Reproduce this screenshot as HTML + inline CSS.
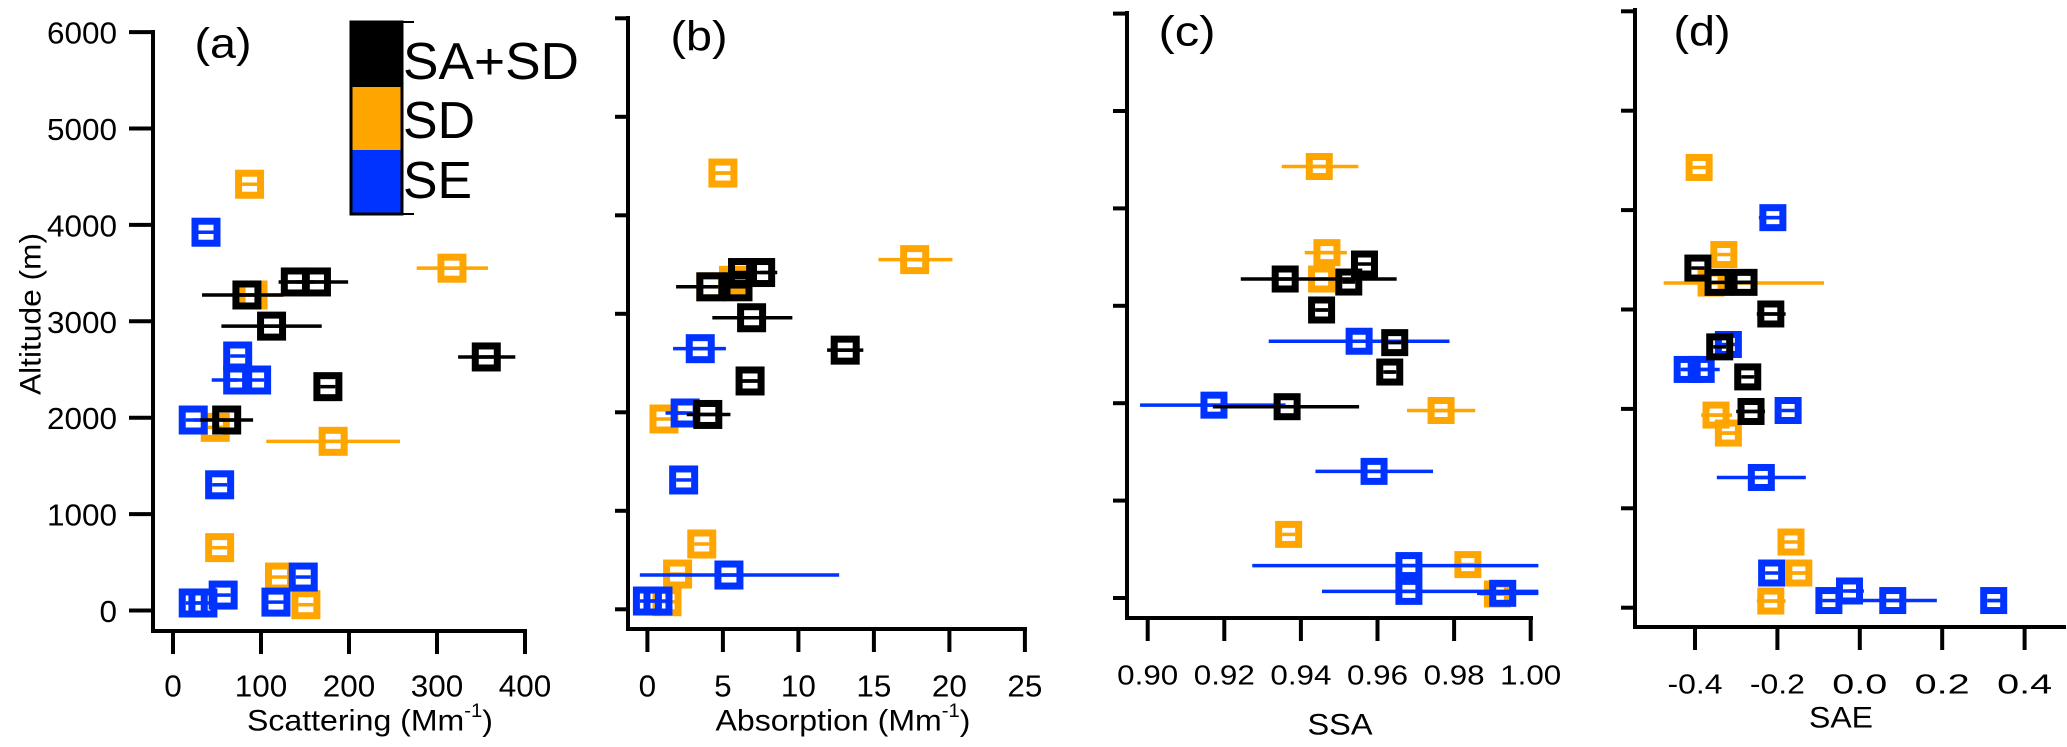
<!DOCTYPE html>
<html><head><meta charset="utf-8"><style>
html,body{margin:0;padding:0;background:#fff;}
svg{display:block;font-family:"Liberation Sans",sans-serif;}
</style></head><body>
<svg id="chart" width="2067" height="747" viewBox="0 0 2067 747" xmlns="http://www.w3.org/2000/svg">
<g id="axes"></g>
<g id="marks"></g>
<g id="legend">
  <rect x="351" y="22" width="51" height="66" fill="#000"/>
  <rect x="351" y="87" width="51" height="64" fill="#FFA500"/>
  <rect x="351" y="150" width="51" height="64" fill="#0033FF"/>
  <rect x="351" y="22" width="51" height="192" fill="none" stroke="#000" stroke-width="3"/>
  <line x1="402" y1="22" x2="414" y2="22" stroke="#000" stroke-width="2"/>
  <line x1="402" y1="214" x2="414" y2="214" stroke="#000" stroke-width="2"/>
  <text x="403" y="79" font-size="52" textLength="176" lengthAdjust="spacingAndGlyphs">SA+SD</text>
  <text x="403" y="138" font-size="52" textLength="72" lengthAdjust="spacingAndGlyphs">SD</text>
  <text x="403" y="198" font-size="52" textLength="69" lengthAdjust="spacingAndGlyphs">SE</text>
</g>
</svg>
<script>
// ---- Panel (a) Scattering ----
const aBlackX=[84,139,163,112,176,356,61];
const aBlackAlt=[3273,3408,3408,2950,2322,2630,1976];
const aBlackLo=[33,120,140,55,176,324,31];
const aBlackHi=[125,160,199,169,176,389,91];
const aOrangeX=[87,317,91,48,182,53,121,151];
const aOrangeAlt=[4422,3551,3273,1900,1755,652,347,60];
const aOrangeLo=[87,277,91,48,106,53,121,151];
const aOrangeHi=[87,358,127,48,258,53,121,151];
const aBlueX=[37.5,73.5,73.5,95,23,53,148,57,117,23,34];
const aBlueAlt=[3924,2640,2391,2391,1976,1304,347,160,87,78,78];
const aBlueLo=[37.5,73.5,44,95,23,53,148,57,117,23,34];
const aBlueHi=[37.5,73.5,73.5,95,31,53,148,57,117,23,34];
// ---- Panel (b) Absorption ----
const bBlackX=[4.2,6.0,6.3,7.5,6.9,13.1,6.8,4.0];
const bBlackAlt=[3274,3274,3419,3419,2960,2631,2318,1978];
const bBlackLo=[1.9,6.0,6.3,7.5,4.3,11.9,6.2,2.6];
const bBlackHi=[4.2,6.0,6.3,8.6,9.6,14.3,7.4,5.5];
const bOrangeX=[5.0,17.7,4.2,5.7,1.1,3.6,2.0,1.3];
const bOrangeAlt=[4429,3550,3274,3340,1932,663,358,77];
const bOrangeLo=[4.3,15.3,4.2,5.7,1.1,3.6,2.0,1.3];
const bOrangeHi=[5.7,20.2,4.2,5.7,1.1,3.6,2.0,1.3];
const bBlueX=[3.5,2.5,2.4,5.4,0.0,0.7];
const bBlueAlt=[2646,1993,1313,348,84,84];
const bBlueLo=[1.7,1.2,2.4,-0.5,0.0,0.7];
const bBlueHi=[5.2,2.5,2.4,12.7,0.0,0.7];
// ---- Panel (c) SSA ----
const cBlackX=[0.9359,0.9525,0.9566,0.9454,0.9645,0.9632,0.9364];
const cBlackAlt=[3275,3244,3429,2957,2622,2320,1964];
const cBlackLo=[0.9243,0.9525,0.9566,0.9440,0.9645,0.9620,0.9170];
const cBlackHi=[0.9650,0.9525,0.9566,0.9470,0.9645,0.9645,0.9552];
const cOrangeX=[0.9448,0.9468,0.9454,0.9766,0.9368,0.9836,0.9913];
const cOrangeAlt=[4430,3546,3275,1925,653,343,41];
const cOrangeLo=[0.9350,0.9410,0.9454,0.9677,0.9368,0.9800,0.9870];
const cOrangeHi=[0.9550,0.9520,0.9454,0.9855,0.9368,0.9870,0.9950];
const cBlueX=[0.9173,0.9552,0.9591,0.9682,0.9682,0.9927];
const cBlueAlt=[1980,2636,1300,333,68,48];
const cBlueLo=[0.8980,0.9316,0.9438,0.9273,0.9455,0.9860];
const cBlueHi=[0.9360,0.9788,0.9745,1.0020,1.0020,1.0020];
// ---- Panel (d) SAE ----
const dBlackX=[-0.393,-0.344,-0.281,-0.216,-0.340,-0.272,-0.264];
const dBlackAlt=[3417,3273,3273,2955,2624,2322,1974];
const dBlackLo=[-0.393,-0.344,-0.320,-0.250,-0.340,-0.272,-0.300];
const dBlackHi=[-0.393,-0.344,-0.250,-0.180,-0.340,-0.272,-0.230];
const dOrangeX=[-0.390,-0.330,-0.361,-0.349,-0.319,-0.167,-0.148,-0.216];
const dOrangeAlt=[4429,3553,3266,1938,1757,661,349,67];
const dOrangeLo=[-0.390,-0.330,-0.476,-0.385,-0.345,-0.167,-0.180,-0.250];
const dOrangeHi=[-0.390,-0.330,-0.087,-0.310,-0.290,-0.167,-0.120,-0.180];
const dBlueX=[-0.211,-0.319,-0.419,-0.385,-0.174,-0.239,-0.214,-0.025,-0.075,0.080,0.325];
const dBlueAlt=[3924,2648,2397,2397,1984,1310,349,168,72,72,72];
const dBlueLo=[-0.245,-0.319,-0.430,-0.385,-0.174,-0.347,-0.214,-0.025,-0.075,-0.032,0.310];
const dBlueHi=[-0.180,-0.319,-0.385,-0.340,-0.174,-0.131,-0.214,0.010,-0.075,0.187,0.345];
// ---- ticks ----
const altTicks=[0,1000,2000,3000,4000,5000,6000];
const aXTicks=[0,100,200,300,400];
const bXTicks=[0,5,10,15,20,25];
const cXTicks=[0.90,0.92,0.94,0.96,0.98,1.00];
const cXLabels=["0.90","0.92","0.94","0.96","0.98","1.00"];
const dXTicks=[-0.4,-0.2,0.0,0.2,0.4];
const dXLabels=["-0.4","-0.2","0.0","0.2","0.4"];

const NS="http://www.w3.org/2000/svg";
const axesG=document.getElementById('axes');
const marksG=document.getElementById('marks');
const ORANGE="#FFA500", BLUE="#0033FF", BLACK="#000000";
function mk(tag,parent){const e=document.createElementNS(NS,tag);parent.appendChild(e);return e;}
function line(p,x1,y1,x2,y2,c,w){const l=mk('line',p);l.setAttribute('x1',x1);l.setAttribute('y1',y1);l.setAttribute('x2',x2);l.setAttribute('y2',y2);l.setAttribute('stroke',c);l.setAttribute('stroke-width',w);return l;}
function txt(p,x,y,s,fs,anchor,len){const t=mk('text',p);t.setAttribute('x',x);t.setAttribute('y',y);t.setAttribute('font-size',fs);t.setAttribute('text-anchor',anchor);t.setAttribute('dominant-baseline','central');if(len){t.setAttribute('textLength',len);t.setAttribute('lengthAdjust','spacingAndGlyphs');}t.textContent=s;return t;}

const panels=[
 {id:'a',x0:173,xs:0.88,xv0:0,y0:610.5,ys:0.0964,ax:153,ay:631,xEnd:525,yTop:32,yTickLen:24,tickLab:true,
  xt:aXTicks,xl:aXTicks.map(String),lfs:31,lw:null,labY:686,title:'Scattering (Mm',sup:true,titleX:370,titleY:721,titleLen:246,
  plab:'(a)',plx:223,ply:43,ms:29},
 {id:'b',x0:647.4,xs:15.1,xv0:0,y0:609.3,ys:0.0985,ax:628,ay:629,xEnd:1025,yTop:18,yTickLen:13,tickLab:false,
  xt:bXTicks,xl:bXTicks.map(String),lfs:31,lw:null,labY:686,title:'Absorption (Mm',sup:true,titleX:843,titleY:721,titleLen:255,
  plab:'(b)',plx:699,ply:36,ms:29},
 {id:'c',x0:1147.7,xs:3830,xv0:0.9,y0:598,ys:0.0974,ax:1127,ay:618,xEnd:1531,yTop:13,yTickLen:14,tickLab:false,
  xt:cXTicks,xl:cXLabels,lfs:28,lw:61,labY:675,title:'SSA',sup:false,titleX:1340,titleY:725,titleLen:65,
  plab:'(c)',plx:1187,ply:31,ms:27},
 {id:'d',x0:1695,xs:412,xv0:-0.4,y0:607.7,ys:0.0994,ax:1635,ay:627,xEnd:2064,yTop:10,yTickLen:14,tickLab:false,
  xt:dXTicks,xl:dXLabels,lfs:28,lw:55,labY:684,title:'SAE',sup:false,titleX:1841,titleY:718,titleLen:64,
  plab:'(d)',plx:1702,ply:31,ms:27}
];
const data={
 a:[[aOrangeX,aOrangeAlt,aOrangeLo,aOrangeHi,ORANGE,'sd'],[aBlueX,aBlueAlt,aBlueLo,aBlueHi,BLUE,'se'],[aBlackX,aBlackAlt,aBlackLo,aBlackHi,BLACK,'sa-sd']],
 b:[[bOrangeX,bOrangeAlt,bOrangeLo,bOrangeHi,ORANGE,'sd'],[bBlueX,bBlueAlt,bBlueLo,bBlueHi,BLUE,'se'],[bBlackX,bBlackAlt,bBlackLo,bBlackHi,BLACK,'sa-sd']],
 c:[[cOrangeX,cOrangeAlt,cOrangeLo,cOrangeHi,ORANGE,'sd'],[cBlueX,cBlueAlt,cBlueLo,cBlueHi,BLUE,'se'],[cBlackX,cBlackAlt,cBlackLo,cBlackHi,BLACK,'sa-sd']],
 d:[[dOrangeX,dOrangeAlt,dOrangeLo,dOrangeHi,ORANGE,'sd'],[dBlueX,dBlueAlt,dBlueLo,dBlueHi,BLUE,'se'],[dBlackX,dBlackAlt,dBlackLo,dBlackHi,BLACK,'sa-sd']]
};

panels.forEach(p=>{
  const X=v=>p.x0+(v-p.xv0)*p.xs;
  const Y=a=>p.y0-a*p.ys;
  const g=mk('g',axesG);
  
  
  // y axis
  const ya=line(g,p.ax,p.yTop-2,p.ax,p.ay+2,'#000',4);
  
  
  altTicks.forEach(t=>{
    const tk=line(g,p.ax-p.yTickLen,Y(t),p.ax,Y(t),'#000',4);
    
    
    if(p.tickLab){
      const tl=txt(g,117,Y(t)+1,String(t),p.lfs,'end',String(t).length*17.5);
      
      
    }
  });
  // x axis
  const xa=line(g,p.ax-2,p.ay,p.xEnd+2,p.ay,'#000',4);
  
  
  p.xt.forEach((t,i)=>{
    const tk=line(g,X(t),p.ay,X(t),p.ay+23,'#000',4);
    
    
    const len=p.lw?p.lw:p.xl[i].length*17.5;
    const tl=txt(g,X(t),p.labY,p.xl[i],p.lfs,'middle',len);
    
    
  });
  // title
  const tt=mk('text',g);
  tt.setAttribute('x',p.titleX);tt.setAttribute('y',p.titleY);
  tt.setAttribute('font-size',30);tt.setAttribute('text-anchor','middle');
  tt.setAttribute('dominant-baseline','central');
  
  
  if(p.sup){
    tt.appendChild(document.createTextNode(p.title));
    const ts=document.createElementNS(NS,'tspan');ts.setAttribute('dy','-10');ts.setAttribute('font-size','19');ts.textContent='-1';tt.appendChild(ts);
    const tc=document.createElementNS(NS,'tspan');tc.setAttribute('dy','10');tc.textContent=')';tt.appendChild(tc);
    tt.setAttribute('textLength',p.titleLen);tt.setAttribute('lengthAdjust','spacingAndGlyphs');
  } else {
    tt.textContent=p.title;
    tt.setAttribute('textLength',p.titleLen);tt.setAttribute('lengthAdjust','spacingAndGlyphs');
  }
  // panel label
  const pl=txt(g,p.plx,p.ply,p.plab,42,'middle',57);
  
  
  // data
  data[p.id].forEach(s=>{
    const [xs,alts,lo,hi,col,nm]=s;
    const sg=mk('g',marksG);
    
    
    xs.forEach((v,i)=>{
      const cx=X(v), cy=Y(alts[i]);
      if(hi[i]>lo[i]){
        const eb=line(sg,X(lo[i]),cy,X(hi[i]),cy,col,3.5);
        
        
      }
      const h=p.ms/2, sw=7;
      const r=mk('rect',sg);
      r.setAttribute('x',cx-h+sw/2);r.setAttribute('y',cy-h+sw/2);
      r.setAttribute('width',p.ms-sw);r.setAttribute('height',p.ms-sw);
      r.setAttribute('fill','none');r.setAttribute('stroke',col);r.setAttribute('stroke-width',sw);
      
      
      const cl=line(sg,cx-h+sw,cy,cx+h-sw,cy,col,3.5);
      
      
    });
  });
});
// y-axis title
const yt=mk('text',axesG);
yt.setAttribute('x',0);yt.setAttribute('y',0);
yt.setAttribute('transform','translate(31,314) rotate(-90)');
yt.setAttribute('font-size',30);yt.setAttribute('text-anchor','middle');
yt.setAttribute('dominant-baseline','central');
yt.setAttribute('textLength',162);yt.setAttribute('lengthAdjust','spacingAndGlyphs');


yt.textContent='Altitude (m)';
</script>
</body></html>
